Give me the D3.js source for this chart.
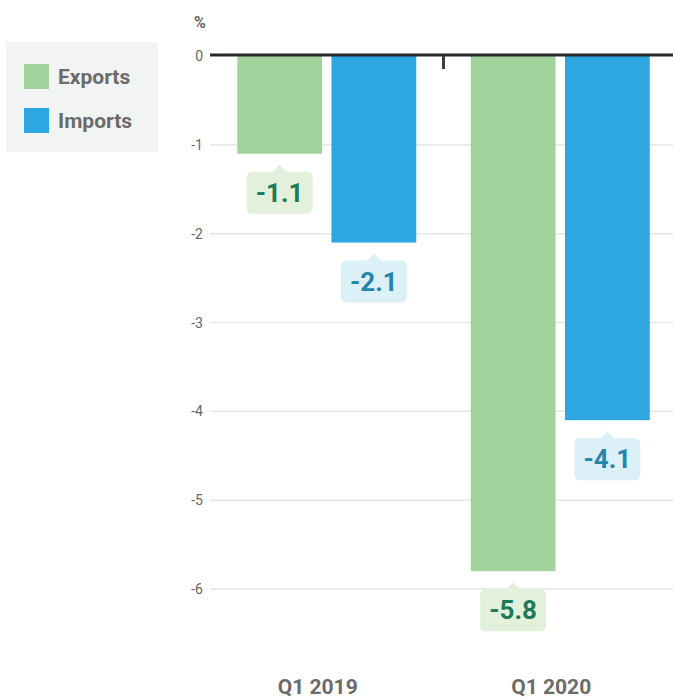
<!DOCTYPE html>
<html>
<head>
<meta charset="utf-8">
<script src="https://cdn.jsdelivr.net/npm/d3@7"></script>
<style>
  html, body { margin: 0; padding: 0; background: #fff; }
  svg { display: block; font-family: Roboto, "Noto Sans", sans-serif; }
</style>
</head>
<body>
<div id="chart"></div>
<script>
/* data */
var quarters = ['Q1 2019', 'Q1 2020'];
var seriesNames = ['Exports', 'Imports'];
var exportsVals = [-1.1, -5.8];
var importsVals = [-2.1, -4.1];
var yTicks = [0, -1, -2, -3, -4, -5, -6];

var colors = { Exports: '#a3d39c', Imports: '#2ea7e0' };
var boxFill = { Exports: '#e3f0dc', Imports: '#dcf0f8' };
var textFill = { Exports: '#1c7a56', Imports: '#2586ad' };

var rows = [];
quarters.forEach(function (q, i) {
  rows.push({ q: q, s: 'Exports', v: exportsVals[i] });
  rows.push({ q: q, s: 'Imports', v: importsVals[i] });
});

var W = 673, H = 700;
var svg = d3.select('#chart').append('svg')
  .attr('width', W).attr('height', H);

var left = 210, right = 677;

var y = d3.scaleLinear().domain([0, -6]).range([56, 589]);

var x0 = d3.scaleBand()
  .domain(quarters)
  .range([left, right])
  .paddingInner(0.2334)
  .paddingOuter(0.1167);

var x1 = d3.scaleBand()
  .domain(seriesNames)
  .range([0, x0.bandwidth()])
  .paddingInner(0.1);

/* grid lines */
svg.append('g').selectAll('line')
  .data(yTicks.filter(function (d) { return d !== 0; }))
  .join('line')
  .attr('x1', left).attr('x2', W)
  .attr('y1', function (d) { return y(d); })
  .attr('y2', function (d) { return y(d); })
  .attr('stroke', '#e6e6e6')
  .attr('stroke-width', 1.5);

/* tick labels */
svg.append('g').selectAll('text')
  .data(yTicks)
  .join('text')
  .attr('x', 203)
  .attr('y', function (d) { return y(d) + 5; })
  .attr('text-anchor', 'end')
  .attr('font-size', 14)
  .attr('fill', '#666')
  .text(function (d) { return d === 0 ? '0' : '-' + Math.abs(d); });

svg.append('text')
  .attr('x', 200).attr('y', 28)
  .attr('text-anchor', 'middle')
  .attr('font-size', 16)
  .attr('font-weight', 'bold')
  .attr('fill', '#666')
  .text('%');

/* bars */
svg.append('g').selectAll('rect')
  .data(rows)
  .join('rect')
  .attr('x', function (d) { return x0(d.q) + x1(d.s); })
  .attr('y', y(0))
  .attr('width', x1.bandwidth())
  .attr('height', function (d) { return y(d.v) - y(0); })
  .attr('fill', function (d) { return colors[d.s]; });

/* zero line + separator tick */
svg.append('line')
  .attr('x1', left).attr('x2', W)
  .attr('y1', y(0) - 1).attr('y2', y(0) - 1)
  .attr('stroke', '#25282d')
  .attr('stroke-width', 3);

var sepX = x0(quarters[1]) - x0.step() * x0.paddingInner() / 2;
svg.append('line')
  .attr('x1', sepX).attr('x2', sepX)
  .attr('y1', y(0)).attr('y2', y(0) + 13)
  .attr('stroke', '#3a3d42')
  .attr('stroke-width', 3);

/* value callouts */
var bw = 66, bh = 42, r = 6, ph = 7, pw = 7;
function callout(cx, top) {
  var x = cx - bw / 2, by = top + ph;
  return 'M' + (x + r) + ',' + by +
    'L' + (cx - pw) + ',' + by + 'L' + cx + ',' + top + 'L' + (cx + pw) + ',' + by +
    'L' + (x + bw - r) + ',' + by +
    'Q' + (x + bw) + ',' + by + ' ' + (x + bw) + ',' + (by + r) +
    'L' + (x + bw) + ',' + (by + bh - r) +
    'Q' + (x + bw) + ',' + (by + bh) + ' ' + (x + bw - r) + ',' + (by + bh) +
    'L' + (x + r) + ',' + (by + bh) +
    'Q' + x + ',' + (by + bh) + ' ' + x + ',' + (by + bh - r) +
    'L' + x + ',' + (by + r) +
    'Q' + x + ',' + by + ' ' + (x + r) + ',' + by + 'Z';
}

var labels = svg.append('g').selectAll('g')
  .data(rows)
  .join('g');

labels.append('path')
  .attr('d', function (d) {
    return callout(x0(d.q) + x1(d.s) + x1.bandwidth() / 2, y(d.v) + 11);
  })
  .attr('fill', function (d) { return boxFill[d.s]; });

labels.append('text')
  .attr('x', function (d) { return x0(d.q) + x1(d.s) + x1.bandwidth() / 2; })
  .attr('y', function (d) { return y(d.v) + 11 + ph + bh / 2 + 9; })
  .attr('text-anchor', 'middle')
  .attr('font-size', 26)
  .attr('font-weight', 'bold')
  .attr('fill', function (d) { return textFill[d.s]; })
  .text(function (d) { return d.v.toFixed(1); });

/* category labels */
svg.append('g').selectAll('text')
  .data(quarters)
  .join('text')
  .attr('x', function (d) { return x0(d) + x0.bandwidth() / 2 - 9; })
  .attr('y', 694)
  .attr('text-anchor', 'middle')
  .attr('font-size', 21)
  .attr('font-weight', 'bold')
  .attr('fill', '#6b6b6b')
  .text(function (d) { return d; });

/* legend */
var legend = svg.append('g');
legend.append('rect')
  .attr('x', 6).attr('y', 42)
  .attr('width', 152).attr('height', 110)
  .attr('fill', '#f2f4f3');

var items = legend.selectAll('g')
  .data(seriesNames)
  .join('g')
  .attr('transform', function (d, i) { return 'translate(24,' + (64 + i * 44) + ')'; });

items.append('rect')
  .attr('width', 25).attr('height', 25)
  .attr('fill', function (d) { return colors[d]; });

items.append('text')
  .attr('x', 34).attr('y', 20)
  .attr('font-size', 21)
  .attr('font-weight', 'bold')
  .attr('fill', '#6b6b6b')
  .text(function (d) { return d; });
</script>
</body>
</html>
